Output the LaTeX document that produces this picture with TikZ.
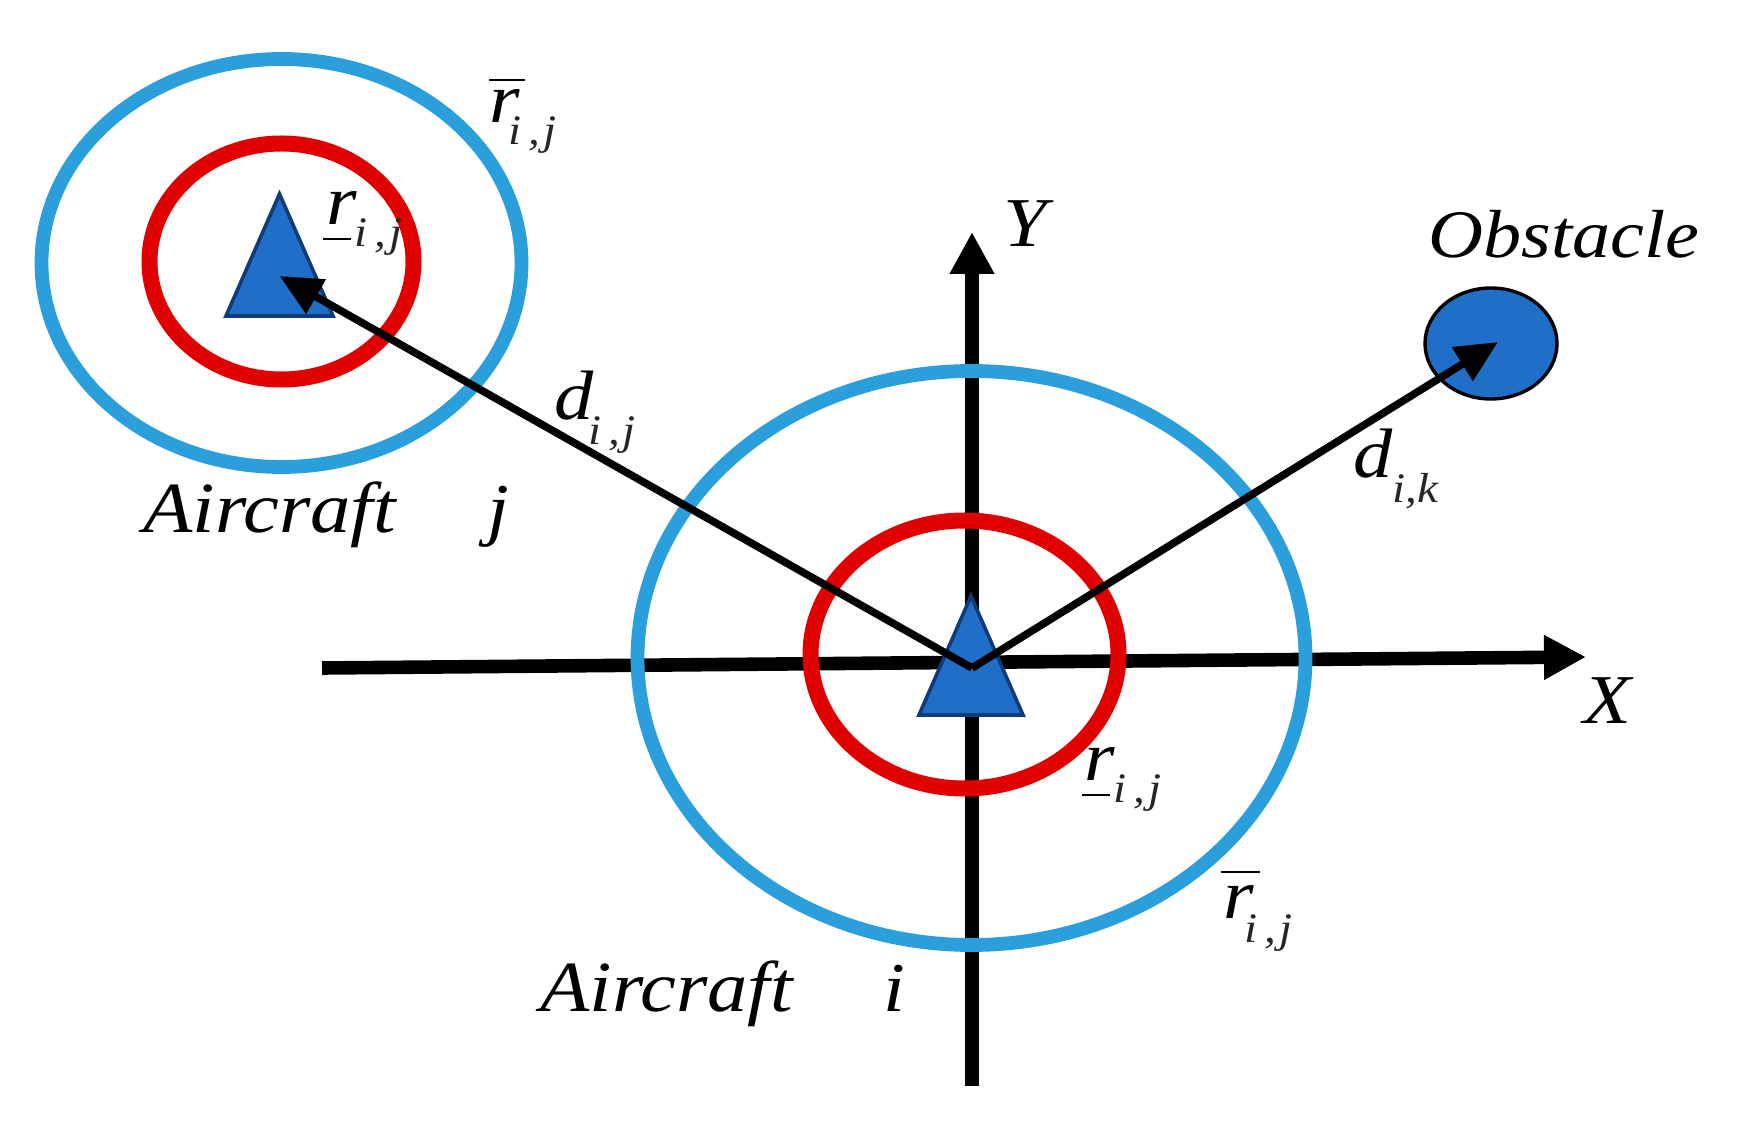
\documentclass[tikz,border=0pt]{standalone}
\usepackage{fontspec}
\setmainfont{Liberation Serif}[FakeStretch=1.12]
\usetikzlibrary{arrows.meta,shapes.geometric}
\definecolor{skyring}{HTML}{2A9FDC}
\definecolor{redring}{HTML}{E00000}
\definecolor{fillblue}{HTML}{1F6FC8}
\definecolor{navy}{HTML}{0F3C78}
\newcommand{\subt}[3]{#1\kern#2\raisebox{#3}{\fontsize{21}{26}\selectfont\color{black!85}\subtext}}
\newcommand{\subtext}{i\,,\kern1.2pt j}
\tikzset{
  x=0.5pt,y=-0.5pt,
  ring/.style={ellipse,draw,inner sep=0pt,fill=none},
  skyr/.style={ring,draw=skyring,line width=6.9pt},
  redr/.style={ring,draw=redring,line width=8pt},
  axis/.style={line width=6.8pt,-{Triangle[length=21pt,width=21pt]}},
  dist/.style={line width=3.8pt,-{Triangle[length=21pt,width=19pt]}},
  craft/.style={fill=fillblue,draw=navy,line width=1.8pt,miter limit=20},
  lab/.style={anchor=base west,inner sep=0pt,font=\fontsize{35}{40}\selectfont\itshape},
  barline/.style={line width=1.3pt}
}
\begin{document}
\begin{tikzpicture}
\useasboundingbox[fill=white] (0,0) rectangle (1746,1122);
% axes
\coordinate (xs) at (322,668);
\coordinate (xe) at (1586,657);
\coordinate (ys) at (972,1086);
\coordinate (ye) at (972,232);
\draw[axis] (xs) -- (xe);
\draw[axis] (ys) -- (ye);
% rings
\node[skyr,minimum width=240pt,minimum height=204pt] (bj) at (281.5,263) {};
\node[redr,minimum width=132pt,minimum height=118pt] (rj) at (281.5,261.5) {};
\node[skyr,minimum width=334pt,minimum height=287pt] (bi) at (971.5,658) {};
\node[redr,minimum width=154pt,minimum height=134pt] (ri) at (964.5,654.5) {};
% aircraft
\coordinate (ja) at (279.5,194);
\coordinate (jl) at (226,316);
\coordinate (jr) at (333,316);
\coordinate (ia) at (971,596);
\coordinate (il) at (919,715);
\coordinate (ir) at (1023,715);
\draw[craft] (ja) -- (jr) -- (jl) -- cycle;
\draw[craft] (ia) -- (ir) -- (il) -- cycle;
% obstacle
\node[ellipse,draw=black,fill=fillblue,line width=1.7pt,inner sep=0pt,minimum width=66pt,minimum height=55.5pt] (ob) at (1491,343.5) {};
% distances
\coordinate (hub) at (972,668);
\coordinate (jt) at (279.5,276);
\coordinate (ot) at (1498,342);
\draw[dist] (hub) -- (jt);
\draw[dist] (hub) -- (ot);
% labels
\node[lab,font=\fontsize{36}{40}\selectfont\itshape] (t1) at (143,533) {Aircraft};
\node[lab] (t2) at (487,533) {j};
\node[lab,font=\fontsize{36}{40}\selectfont\itshape] (t3) at (540,1011) {Aircraft};
\node[lab] (t4) at (883,1011) {i};
\node[lab,font=\fontsize{34}{40}\selectfont\itshape] (t5) at (1428,258) {Obstacle};
\node[lab] (t6) at (1003,247) {Y};
\node[lab] (t7) at (1583,724) {X};
\node[lab] (d1) at (554,420) {\subt{d}{-2.5pt}{-12.5pt}};
\node[lab] (d2) at (1353,478) {d\raisebox{-12.5pt}{\fontsize{21}{26}\selectfont\color{black!85}i,k}};
\node[lab] (r1) at (489,123) {\subt{r}{-5.5pt}{-11pt}};
\draw[barline] (489,80) -- (525,80);
\node[lab] (r2) at (326,225) {\subt{r}{-1pt}{-11pt}};
\draw[barline] (323,239) -- (351,239);
\node[lab] (r3) at (1084,780) {\subt{r}{-0.5pt}{-11pt}};
\draw[barline] (1082,795) -- (1110,795);
\node[lab] (r4) at (1223,918) {\subt{r}{-4.5pt}{-12pt}};
\draw[barline] (1221,872) -- (1260,872);
\end{tikzpicture}
\end{document}
